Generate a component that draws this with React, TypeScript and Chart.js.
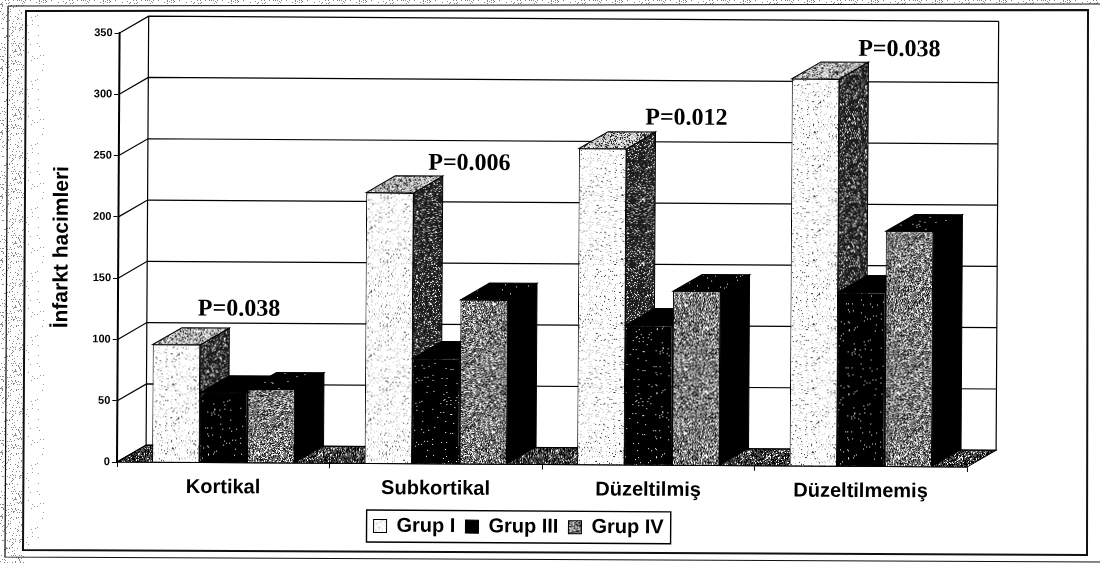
import React, { useEffect, useRef } from "react";
import { Chart, registerables } from "chart.js";

Chart.register(...registerables);

const categories = ["Kortikal", "Subkortikal", "Düzeltilmiş", "Düzeltilmemiş"];
const grupI = [96, 221, 258, 316];
const grupIII = [57, 86, 114, 142];
const grupIV = [60, 134, 142, 192];
const seriesNames = ["Grup I", "Grup III", "Grup IV"];
const pLabels = ["P=0.038", "P=0.006", "P=0.012", "P=0.038"];
const pLabelValues = [120, 240, 278, 335];
const pLabelCategoryShift = [0.07, 0.15, 0.17, 0.17];

const DEPTH_X = 29;
const DEPTH_Y = -17;
const TILT = 0.006;
const FONT = "'Liberation Sans', Arial, sans-serif";

function stipple(
  ctx: CanvasRenderingContext2D,
  bg: string,
  dots: [string, number][],
): CanvasPattern {
  const size = 64;
  const c = document.createElement("canvas");
  c.width = size;
  c.height = size;
  const t = c.getContext("2d")!;
  t.fillStyle = bg;
  t.fillRect(0, 0, size, size);
  for (let y = 0; y < size; y++) {
    for (let x = 0; x < size; x++) {
      let h = (Math.imul(x + 1, 374761393) + Math.imul(y + 1, 668265263)) | 0;
      h = Math.imul(h ^ (h >>> 13), 1274126177);
      h = h ^ (h >>> 16);
      const v = (h >>> 0) / 4294967296;
      let acc = 0;
      for (const [color, share] of dots) {
        acc += share;
        if (v < acc) {
          t.fillStyle = color;
          t.fillRect(x, y, 1, 1);
          break;
        }
      }
    }
  }
  return ctx.createPattern(c, "repeat")!;
}

function poly(ctx: CanvasRenderingContext2D, pts: number[][], fill: any, stroke = "#000") {
  ctx.beginPath();
  pts.forEach((p, i) => (i ? ctx.lineTo(p[0], p[1]) : ctx.moveTo(p[0], p[1])));
  ctx.closePath();
  ctx.fillStyle = fill;
  ctx.fill();
  ctx.strokeStyle = stroke;
  ctx.lineWidth = 1;
  ctx.stroke();
}

export default function App() {
  const ref = useRef<HTMLCanvasElement>(null);

  useEffect(() => {
    const canvas = ref.current!;
    const base = canvas.getContext("2d")!;

    const frontI = stipple(base, "#ffffff", [["#b8b8b8", 0.09], ["#333333", 0.025]]);
    const sideI = stipple(base, "#1c1c1c", [["#ffffff", 0.1], ["#777777", 0.16]]);
    const topI = stipple(base, "#c0c0c0", [["#222222", 0.25], ["#ffffff", 0.2]]);
    const frontIII = stipple(base, "#000000", [["#ffffff", 0.02]]);
    const frontIV = stipple(base, "#777777", [["#ffffff", 0.24], ["#111111", 0.24]]);
    const darkIV = stipple(base, "#000000", [["#ffffff", 0.012]]);
    const floor = stipple(base, "#555555", [["#ffffff", 0.12], ["#000000", 0.38]]);
    const margin = stipple(base, "#ffffff", [["#888888", 0.1]]);
    const faint = stipple(base, "#ffffff", [["#999999", 0.02]]);

    const faces = [
      { side: sideI, top: topI },
      { side: "#000000", top: "#000000" },
      { side: "#000000", top: darkIV },
    ];

    const scene = {
      id: "scene",
      beforeDraw(chart: any) {
        const c = chart.ctx;
        c.save();
        c.fillStyle = "#fff";
        c.fillRect(0, 0, chart.width, chart.height);
        c.fillStyle = margin;
        c.fillRect(0, 0, 24, chart.height);
        c.fillRect(0, 0, chart.width, 4);
        c.fillStyle = faint;
        c.fillRect(26, 12, 18, 535);
        c.strokeStyle = "#111";
        c.lineWidth = 2;
        c.beginPath();
        c.moveTo(26, 11);
        c.lineTo(1088, 10);
        c.lineTo(1087, 555);
        c.lineTo(23, 550);
        c.closePath();
        c.stroke();
        c.lineWidth = 1.2;
        c.beginPath();
        c.moveTo(8, 6);
        c.lineTo(1100, 4);
        c.moveTo(8, 6);
        c.lineTo(5, 557);
        c.lineTo(1100, 562);
        c.stroke();
        c.restore();
        const a = chart.chartArea;
        c.save();
        c.translate(a.left, a.bottom);
        c.rotate(TILT);
        c.translate(-a.left, -a.bottom);
      },
      beforeDatasetsDraw(chart: any) {
        const c = chart.ctx;
        const a = chart.chartArea;
        const y = chart.scales.y;
        c.save();
        poly(
          c,
          [
            [a.left, a.bottom],
            [a.left + DEPTH_X, a.bottom + DEPTH_Y],
            [a.right + DEPTH_X, a.bottom + DEPTH_Y],
            [a.right, a.bottom],
          ],
          floor,
        );
        c.strokeStyle = "#000";
        c.lineWidth = 1.2;
        y.ticks.forEach((t: any) => {
          const py = y.getPixelForValue(t.value);
          c.beginPath();
          c.moveTo(a.left, py);
          c.lineTo(a.left + DEPTH_X, py + DEPTH_Y);
          c.lineTo(a.right + DEPTH_X, py + DEPTH_Y);
          c.stroke();
        });
        c.beginPath();
        c.moveTo(a.left + DEPTH_X, a.top + DEPTH_Y);
        c.lineTo(a.left + DEPTH_X, a.bottom + DEPTH_Y);
        c.moveTo(a.right + DEPTH_X, a.top + DEPTH_Y);
        c.lineTo(a.right + DEPTH_X, a.bottom + DEPTH_Y);
        c.stroke();
        c.restore();

        // Painter's order, left to right: each bar's front hides its neighbour's side.
        categories.forEach((_, idx) => {
          faces.forEach((face, ds) => {
            const b = chart.getDatasetMeta(ds).data[idx];
            const l = b.x - b.width / 2;
            const r = b.x + b.width / 2;
            poly(
              c,
              [
                [r, b.y],
                [r + DEPTH_X, b.y + DEPTH_Y],
                [r + DEPTH_X, b.base + DEPTH_Y],
                [r, b.base],
              ],
              face.side,
            );
            poly(
              c,
              [
                [l, b.y],
                [l + DEPTH_X, b.y + DEPTH_Y],
                [r + DEPTH_X, b.y + DEPTH_Y],
                [r, b.y],
              ],
              face.top,
            );
            b.draw(c);
          });
        });
      },
      beforeDatasetDraw() {
        return false;
      },
      afterDatasetsDraw(chart: any) {
        const c = chart.ctx;
        const { x, y } = chart.scales;
        c.save();
        c.fillStyle = "#000";
        c.font = "bold 24px 'Liberation Serif', 'Times New Roman', serif";
        c.textAlign = "center";
        c.textBaseline = "alphabetic";
        pLabels.forEach((text, i) => {
          c.fillText(
            text,
            x.getPixelForValue(i) + pLabelCategoryShift[i] * (x.width / categories.length),
            y.getPixelForValue(pLabelValues[i]),
          );
        });
        c.restore();
      },
      afterDraw(chart: any) {
        const c = chart.ctx;
        const lg = chart.legend;
        const boxes = lg.legendHitBoxes;
        const first = boxes[0];
        const last = boxes[boxes.length - 1];
        const mid = first.top + first.height / 2;
        c.save();
        c.strokeStyle = "#000";
        c.lineWidth = 1.4;
        c.strokeRect(first.left - 7, mid - 16, last.left + last.width - first.left + 14, 32);
        c.restore();
        c.restore();
      },
    };

    const chart = new Chart(canvas, {
      type: "bar",
      data: {
        labels: categories,
        datasets: [
          { label: seriesNames[0], data: grupI, backgroundColor: frontI },
          { label: seriesNames[1], data: grupIII, backgroundColor: frontIII },
          { label: seriesNames[2], data: grupIV, backgroundColor: frontIV },
        ].map((d) => ({
          ...d,
          borderColor: "#000",
          borderWidth: 1,
          categoryPercentage: 0.67,
          barPercentage: 1,
        })),
      },
      plugins: [scene],
      options: {
        responsive: false,
        animation: false,
        events: [],
        layout: { padding: { left: 71, right: 133, top: 33, bottom: 18.5 } },
        plugins: {
          tooltip: { enabled: false },
          legend: {
            position: "bottom",
            labels: {
              boxWidth: 13,
              boxHeight: 13,
              padding: 10,
              color: "#000",
              font: { family: FONT, size: 20, weight: "bold" },
            },
          },
        },
        scales: {
          x: {
            afterFit(s: any) {
              s.height = 42.5;
            },
            grid: { drawOnChartArea: false, drawTicks: true, tickLength: 5, color: "#000" },
            border: { color: "#000", width: 1.5 },
            ticks: {
              color: "#000",
              padding: 8,
              maxRotation: 0,
              font: { family: FONT, size: 20, weight: "bold" },
            },
          },
          y: {
            min: 0,
            max: 350,
            afterFit(s: any) {
              s.width = 46;
            },
            grid: { drawOnChartArea: false, drawTicks: true, tickLength: 5, color: "#000" },
            border: { color: "#000", width: 2 },
            ticks: {
              stepSize: 50,
              color: "#000",
              padding: 2,
              font: { family: FONT, size: 11, weight: "bold" },
            },
            title: {
              display: true,
              text: "İnfarkt hacimleri",
              color: "#000",
              padding: { top: -23, bottom: 0 },
              font: { family: FONT, size: 21, weight: "bold" },
            },
          },
        },
      },
    });
    return () => chart.destroy();
  }, []);

  return (
    <canvas
      ref={ref}
      width={1100}
      height={563}
      style={{ position: "fixed", left: 0, top: 0, width: 1100, height: 563, display: "block" }}
    />
  );
}
